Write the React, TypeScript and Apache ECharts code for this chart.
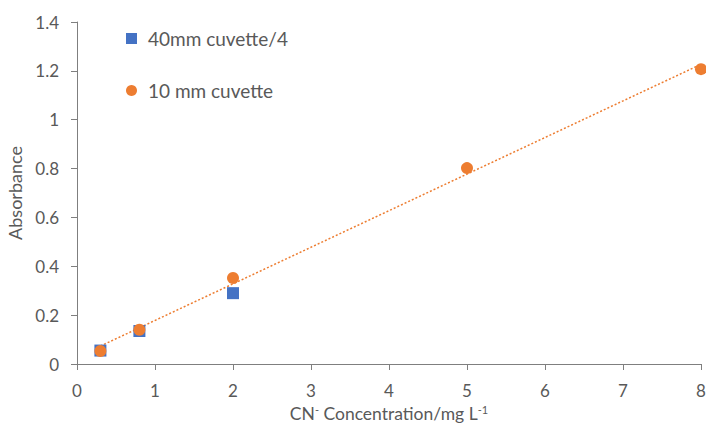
import React, { useEffect, useRef } from "react";
import * as echarts from "echarts";

const cuvette40X = [0.3, 0.8, 2];
const cuvette40Y = [0.055, 0.135, 0.29];
const cuvette10X = [0.3, 0.8, 2, 5, 8];
const cuvette10Y = [0.053, 0.14, 0.352, 0.802, 1.207];
const seriesNames = ["40mm cuvette/4", "10 mm cuvette"];

function fit(xs: number[], ys: number[]) {
  const n = xs.length;
  const mx = xs.reduce((a, b) => a + b, 0) / n;
  const my = ys.reduce((a, b) => a + b, 0) / n;
  let sxx = 0, sxy = 0;
  for (let i = 0; i < n; i++) {
    sxx += (xs[i] - mx) ** 2;
    sxy += (xs[i] - mx) * (ys[i] - my);
  }
  const m = sxy / sxx;
  return { m, b: my - m * mx };
}

export default function App() {
  const ref = useRef<HTMLDivElement>(null);
  useEffect(() => {
    if (!ref.current) return;
    const chart = echarts.init(ref.current, undefined, { renderer: "svg" });
    const { m, b } = fit(cuvette10X, cuvette10Y);
    const x0 = Math.min(...cuvette10X);
    const x1 = Math.max(...cuvette10X);
    const font = "Lato";
    const grey = "#595959";
    const fs = 17;
    chart.setOption({
      animation: false,
      textStyle: { fontFamily: font },
      grid: { left: 77, right: 5, top: 22, bottom: 63, containLabel: false, outerBoundsMode: "none" },
      legend: {
        orient: "vertical",
        left: 121,
        top: 24,
        itemGap: 33,
        itemWidth: 11,
        itemHeight: 11,
        textStyle: { color: grey, fontSize: 19, fontFamily: font, padding: [0, 0, 0, 6] },
        data: [
          { name: seriesNames[0], icon: "rect" },
          { name: seriesNames[1], icon: "circle" },
        ],
      },
      xAxis: {
        type: "value",
        min: 0,
        max: 8,
        interval: 1,
        splitLine: { show: false },
        axisLine: { onZero: false, lineStyle: { color: "#7f7f7f" } },
        axisTick: { show: true, length: 6, lineStyle: { color: "#7f7f7f" } },
        axisLabel: { color: grey, fontSize: fs, margin: 18 },
        name: "{n|CN}{s|-}{n| Concentration/mg L}{s|-1}",
        nameLocation: "middle",
        nameGap: 36,
        nameTextStyle: {
          rich: {
            n: { color: grey, fontSize: 17.5, fontFamily: font },
            s: { color: grey, fontSize: 11, fontFamily: font, padding: [0, 0, 8, 0] },
          },
        },
      },
      yAxis: {
        type: "value",
        min: 0,
        max: 1.4,
        interval: 0.2,
        splitLine: { show: false },
        axisLine: { show: true, lineStyle: { color: "#7f7f7f" } },
        axisTick: { show: true, length: 6, lineStyle: { color: "#7f7f7f" } },
        axisLabel: {
          color: grey,
          fontSize: fs,
          margin: 18,
          formatter: (v: number) => String(Math.round(v * 10) / 10),
        },
        name: "Absorbance",
        nameLocation: "middle",
        nameGap: 53,
        nameTextStyle: { color: grey, fontSize: 18, fontFamily: font },
      },
      series: [
        {
          name: "trend",
          type: "line",
          data: [
            [x0, m * x0 + b],
            [x1, m * x1 + b],
          ],
          symbol: "none",
          lineStyle: { color: "#ED7D31", width: 1.5, type: [2, 2] },
          z: 1,
          silent: true,
        },
        {
          name: seriesNames[0],
          type: "scatter",
          symbol: "rect",
          symbolSize: 12,
          itemStyle: { color: "#4472C4", opacity: 1 },
          data: cuvette40X.map((x, i) => [x, cuvette40Y[i]]),
          z: 2,
        },
        {
          name: seriesNames[1],
          type: "scatter",
          symbol: "circle",
          symbolSize: 12,
          itemStyle: { color: "#ED7D31", opacity: 1 },
          data: cuvette10X.map((x, i) => [x, cuvette10Y[i]]),
          z: 3,
        },
      ],
    });
    return () => chart.dispose();
  }, []);
  return <div ref={ref} style={{ width: 706, height: 427, position: "absolute", left: 0, top: 0 }} />;
}
